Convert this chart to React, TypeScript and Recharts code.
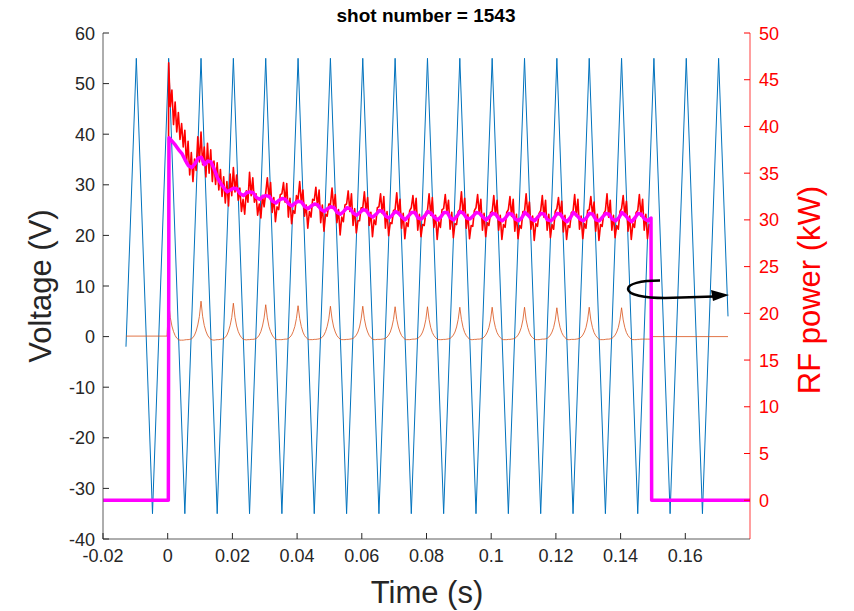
import { LineChart, Line, XAxis, YAxis } from "recharts";

const timeTicks = [-0.02, 0, 0.02, 0.04, 0.06, 0.08, 0.1, 0.12, 0.14, 0.16];
const voltTicks = [-40, -30, -20, -10, 0, 10, 20, 30, 40, 50, 60];
const powerTicks = [0, 5, 10, 15, 20, 25, 30, 35, 40, 45, 50];

// probe sweep voltage (triangle), vertices only
const sweepTime = [
  -0.0129, -0.0097, -0.0047, 0.0003, 0.0053, 0.0103, 0.0153, 0.0203, 0.0253, 0.0303,
  0.0353, 0.0403, 0.0453, 0.0503, 0.0553, 0.0603, 0.0653, 0.0703, 0.0753, 0.0803,
  0.0853, 0.0903, 0.0953, 0.1003, 0.1053, 0.1103, 0.1153, 0.1203, 0.1253, 0.1303,
  0.1353, 0.1403, 0.1453, 0.1503, 0.1553, 0.1603, 0.1653, 0.1703, 0.1732,
];
const sweepVolts = [
  -2, 55, -35, 55, -35, 55, -35, 55, -35, 55,
  -35, 55, -35, 55, -35, 55, -35, 55, -35, 55,
  -35, 55, -35, 55, -35, 55, -35, 55, -35, 55,
  -35, 55, -35, 55, -35, 55, -35, 55, 4,
];

// probe signal, sampled every 0.5 ms from t = 0.3 ms
const probeStart = 0.0003;
const probeStep = 0.0005;
const probeBeforeTime = [-0.0129, -0.0002];
const probeBeforeVolts = [0.1, 0.1];
const probeAfterTime = [0.1496, 0.1732];
const probeAfterVolts = [0, 0];
const probeRows = [
  [6.8, 3.8, 2.1, 1.0, 0.2, -0.3, -0.6, -0.7, -0.7, -0.7, -0.65, -0.6, -0.6, -0.55, -0.45, -0.2, 0.3, 1.1, 2.3, 4.0],
  [7.0, 4.0, 2.2, 1.1, 0.3, -0.2, -0.5, -0.65, -0.7, -0.65, -0.6, -0.6, -0.55, -0.5, -0.4, -0.15, 0.3, 1.1, 2.2, 3.8],
  [6.6, 3.8, 2.1, 1.0, 0.3, -0.2, -0.5, -0.6, -0.65, -0.6, -0.6, -0.55, -0.55, -0.5, -0.4, -0.15, 0.3, 1.0, 2.1, 3.7],
  [6.3, 3.7, 2.0, 1.0, 0.3, -0.2, -0.5, -0.6, -0.6, -0.6, -0.6, -0.55, -0.5, -0.5, -0.4, -0.1, 0.3, 1.0, 2.0, 3.6],
  [6.1, 3.6, 2.0, 0.9, 0.2, -0.2, -0.5, -0.6, -0.6, -0.6, -0.55, -0.55, -0.5, -0.45, -0.35, -0.1, 0.3, 1.0, 2.0, 3.5],
  [6.0, 3.5, 1.9, 0.9, 0.2, -0.2, -0.5, -0.6, -0.6, -0.6, -0.55, -0.55, -0.5, -0.45, -0.35, -0.1, 0.3, 0.9, 1.9, 3.5],
  [6.0, 3.5, 1.9, 0.9, 0.2, -0.2, -0.5, -0.6, -0.6, -0.55, -0.55, -0.55, -0.5, -0.45, -0.35, -0.1, 0.3, 0.9, 1.9, 3.4],
  [5.9, 3.4, 1.9, 0.9, 0.2, -0.2, -0.5, -0.6, -0.6, -0.6, -0.55, -0.5, -0.5, -0.45, -0.35, -0.1, 0.3, 0.9, 1.9, 3.4],
  [5.9, 3.4, 1.8, 0.8, 0.2, -0.2, -0.5, -0.6, -0.6, -0.6, -0.55, -0.55, -0.5, -0.45, -0.35, -0.1, 0.3, 0.9, 1.9, 3.4],
  [5.8, 3.4, 1.8, 0.8, 0.2, -0.2, -0.5, -0.6, -0.6, -0.55, -0.55, -0.5, -0.5, -0.45, -0.35, -0.1, 0.3, 0.9, 1.8, 3.3],
  [5.8, 3.3, 1.8, 0.8, 0.2, -0.2, -0.5, -0.6, -0.6, -0.6, -0.55, -0.55, -0.5, -0.45, -0.35, -0.1, 0.3, 0.9, 1.8, 3.3],
  [5.8, 3.3, 1.8, 0.8, 0.1, -0.2, -0.5, -0.6, -0.6, -0.6, -0.55, -0.5, -0.5, -0.45, -0.35, -0.1, 0.3, 0.9, 1.8, 3.3],
  [5.7, 3.3, 1.8, 0.8, 0.2, -0.2, -0.5, -0.6, -0.6, -0.55, -0.55, -0.55, -0.5, -0.45, -0.35, -0.1, 0.3, 0.9, 1.8, 3.3],
  [5.8, 3.3, 1.8, 0.8, 0.2, -0.2, -0.5, -0.6, -0.6, -0.6, -0.55, -0.5, -0.5, -0.45, -0.35, -0.1, 0.3, 0.9, 1.8, 3.3],
  [5.7, 3.3, 1.8, 0.8, 0.2, -0.2, -0.5, -0.6, -0.6, -0.6, -0.55, -0.55, -0.5, -0.5, -0.5, -0.5, -0.5, -0.5, -0.5],
];

// raw RF power (kW), sampled every 0.5 ms from t = 0.3 ms
const rfStart = 0.0003;
const rfStep = 0.0005;
const rfBeforeTime = [-0.02, 0.0001];
const rfBeforePower = [0, 0];
const rfAfterTime = [0.1495, 0.18];
const rfAfterPower = [0, 0];
const rfRows = [
  [46.8, 42.1, 43.9, 40.2, 42.6, 39.4, 41.5, 38.6, 40.3, 37.8],
  [39.6, 36.0, 38.4, 34.8, 37.2, 34.1, 36.5, 35.3, 38.9, 36.2],
  [39.4, 35.9, 37.8, 34.6, 38.2, 35.0, 37.5, 34.1, 36.3, 33.8],
  [36.1, 33.2, 35.4, 32.5, 34.6, 31.8, 34.1, 31.5, 34.9, 32.6],
  [35.6, 33.0, 34.8, 32.1, 33.4, 30.9, 32.2, 30.6, 33.1, 31.9],
  [35.1, 32.6, 34.5, 31.9, 32.8, 30.5, 31.7, 30.2, 32.6, 31.4],
  [32.9, 34.5, 32.4, 34.0, 30.8, 32.4, 29.8, 31.4, 31.1, 32.7],
  [32.8, 34.0, 31.9, 33.9, 30.3, 32.3, 29.6, 31.0, 30.7, 32.6],
  [32.2, 34.1, 31.9, 33.2, 30.4, 31.6, 29.1, 30.9, 30.3, 32.2],
  [32.1, 33.5, 31.4, 33.2, 29.7, 31.6, 28.8, 30.6, 30.4, 31.7],
  [31.6, 33.4, 31.3, 32.7, 29.7, 31.1, 28.4, 30.3, 29.8, 31.6],
  [31.7, 33.1, 30.9, 32.8, 29.4, 31.2, 28.6, 29.9, 29.9, 31.3],
  [31.3, 33.0, 30.9, 32.4, 29.4, 30.8, 28.2, 30.0, 29.5, 31.3],
  [31.4, 32.8, 30.7, 32.5, 29.1, 30.9, 28.3, 29.7, 29.6, 31.0],
  [31.1, 32.9, 30.6, 32.2, 29.1, 30.7, 28.0, 29.7, 29.3, 31.0],
  [31.3, 32.6, 30.7, 32.3, 28.9, 30.6, 28.2, 29.5, 29.4, 30.8],
  [31.0, 32.8, 30.5, 32.4, 29.2, 30.5, 27.9, 29.8, 29.2, 31.1],
  [31.2, 32.7, 30.8, 32.1, 29.0, 30.8, 28.1, 29.6, 29.5, 30.9],
  [31.1, 33.0, 30.6, 32.3, 29.1, 30.6, 28.0, 29.4, 29.3, 31.0],
  [31.3, 32.7, 30.7, 32.2, 28.9, 30.7, 28.2, 29.7, 29.4, 30.8],
  [30.9, 32.6, 30.5, 32.1, 28.9, 30.5, 27.9, 29.5, 29.2, 30.8],
  [31.1, 32.5, 30.4, 32.2, 28.8, 30.6, 28.0, 29.4, 29.1, 30.9],
  [30.9, 32.8, 30.6, 31.9, 29.0, 30.4, 27.8, 29.6, 29.3, 30.7],
  [31.0, 32.6, 30.3, 32.1, 28.9, 30.6, 28.1, 29.5, 29.0, 30.9],
  [31.2, 32.4, 30.5, 32.0, 28.7, 30.5, 27.9, 29.4, 29.2, 30.8],
  [30.9, 32.7, 30.4, 32.2, 29.0, 30.4, 28.0, 29.6, 29.1, 31.0],
  [31.1, 32.5, 30.6, 31.9, 28.8, 30.6, 27.8, 29.5, 29.3, 30.7],
  [31.0, 32.8, 30.3, 32.1, 28.9, 30.5, 28.1, 29.4, 29.0, 30.9],
  [31.2, 32.6, 30.5, 32.0, 28.8, 30.4, 27.9, 29.6, 29.2, 30.8],
  [31.0, 32.7, 30.4, 32.2, 28.9, 30.6, 28.0, 29.5, 29.3],
];

// smoothed RF power (kW), every 1 ms from t = 0.4 ms
const smoothStart = 0.0004;
const smoothStep = 0.001;
const smoothBeforeTime = [-0.02, 0.0002];
const smoothBeforePower = [0, 0];
const smoothAfterTime = [0.1496, 0.18];
const smoothAfterPower = [0, 0];
const smoothRows = [
  [38.8, 38.4, 38.0, 37.5, 37.1],
  [36.4, 35.8, 35.6, 36.0, 36.6],
  [36.7, 35.9, 36.3, 36.2, 35.4],
  [34.5, 33.9, 33.4, 33.0, 33.2],
  [33.4, 33.3, 32.8, 32.6, 32.9],
  [33.0, 32.9, 32.4, 32.2, 32.5],
  [32.6, 32.5, 32.0, 31.8, 32.1],
  [32.3, 32.2, 31.7, 31.5, 31.8],
  [32.0, 31.9, 31.4, 31.2, 31.5],
  [31.7, 31.6, 31.1, 30.9, 31.2],
  [31.4, 31.3, 30.8, 30.6, 30.9],
  [31.3, 31.2, 30.7, 30.5, 30.8],
  [31.1, 31.0, 30.5, 30.3, 30.6],
  [31.0, 30.9, 30.4, 30.2, 30.5],
  [30.9, 30.7, 30.3, 30.0, 30.4],
  [30.8, 30.8, 30.2, 30.1, 30.4],
  [30.9, 30.7, 30.3, 30.0, 30.3],
  [30.8, 30.8, 30.2, 30.0, 30.4],
  [30.9, 30.7, 30.2, 30.1, 30.4],
  [30.8, 30.7, 30.3, 30.0, 30.3],
  [30.7, 30.6, 30.1, 29.9, 30.2],
  [30.7, 30.6, 30.1, 29.9, 30.2],
  [30.8, 30.5, 30.1, 29.9, 30.3],
  [30.7, 30.6, 30.0, 29.9, 30.2],
  [30.7, 30.6, 30.1, 29.8, 30.2],
  [30.8, 30.5, 30.1, 29.9, 30.2],
  [30.7, 30.6, 30.0, 29.9, 30.3],
  [30.7, 30.6, 30.1, 29.9, 30.2],
  [30.8, 30.5, 30.1, 29.8, 30.2],
  [30.7, 30.6, 30.1, 29.9, 30.2],
];

const pairs = (times: number[], vals: number[]) => times.map((t, i) => ({ t, v: vals[i] }));
const sampled = (start: number, step: number, vals: number[]) =>
  vals.map((v, i) => ({ t: +(start + i * step).toFixed(5), v }));

const sweepData = pairs(sweepTime, sweepVolts);
const probeData = [
  ...pairs(probeBeforeTime, probeBeforeVolts),
  ...sampled(probeStart, probeStep, probeRows.flat()),
  ...pairs(probeAfterTime, probeAfterVolts),
];
const rfData = [
  ...pairs(rfBeforeTime, rfBeforePower),
  ...sampled(rfStart, rfStep, rfRows.flat()),
  ...pairs(rfAfterTime, rfAfterPower),
];
const smoothData = [
  ...pairs(smoothBeforeTime, smoothBeforePower),
  ...sampled(smoothStart, smoothStep, smoothRows.flat()),
  ...pairs(smoothAfterTime, smoothAfterPower),
];

const FONT = "'Liberation Sans', Arial, Helvetica, sans-serif";
const INK = "#262626";
const AXIS = "#5c5c5c";
const RED = "#ff0000";

const BottomTick = ({ x, y, payload }: any) => (
  <g>
    <line x1={x} y1={y} x2={x} y2={y - 6} stroke={INK} />
    <text x={x} y={y + 23} textAnchor="middle" fill={INK} fontSize={18} fontFamily={FONT}>
      {payload.value}
    </text>
  </g>
);

const TopTick = ({ x, y }: any) => <line x1={x} y1={y} x2={x} y2={y + 6} stroke={INK} />;

const LeftTick = ({ x, y, payload }: any) => (
  <g>
    <line x1={x} y1={y} x2={x + 6} y2={y} stroke={INK} />
    <text x={x - 8} y={y} dy={6.5} textAnchor="end" fill={INK} fontSize={18} fontFamily={FONT}>
      {payload.value}
    </text>
  </g>
);

const RightTick = ({ x, y, payload }: any) => (
  <g>
    <line x1={x} y1={y} x2={x - 6} y2={y} stroke={RED} />
    <text x={x + 9} y={y} dy={6.5} textAnchor="start" fill={RED} fontSize={18} fontFamily={FONT}>
      {payload.value}
    </text>
  </g>
);

export default function App() {
  return (
    <div style={{ position: "absolute", left: 0, top: 0, width: 854, height: 611, background: "#fff", fontFamily: FONT }}>
      <LineChart width={854} height={611} margin={{ top: 33, right: 5, bottom: 32, left: 5 }}>
        <XAxis
          xAxisId="top"
          orientation="top"
          type="number"
          dataKey="t"
          domain={[-0.02, 0.18]}
          ticks={timeTicks}
          interval={0}
          height={0}
          tickSize={0}
          tickMargin={0}
          tickLine={false}
          tick={<TopTick />}
          axisLine={{ stroke: AXIS }}
          allowDataOverflow
        />
        <XAxis
          type="number"
          dataKey="t"
          domain={[-0.02, 0.18]}
          ticks={timeTicks}
          interval={0}
          height={40}
          tickSize={0}
          tickMargin={0}
          tickLine={false}
          tick={<BottomTick />}
          axisLine={{ stroke: AXIS }}
          allowDataOverflow
        />
        <YAxis
          yAxisId="left"
          type="number"
          domain={[-40, 60]}
          ticks={voltTicks}
          interval={0}
          width={98}
          tickSize={0}
          tickMargin={0}
          tickLine={false}
          tick={<LeftTick />}
          axisLine={{ stroke: AXIS }}
          allowDataOverflow
        />
        <YAxis
          yAxisId="right"
          orientation="right"
          type="number"
          domain={[-4.15, 50]}
          ticks={powerTicks}
          interval={0}
          width={99}
          tickSize={0}
          tickMargin={0}
          tickLine={false}
          tick={<RightTick />}
          axisLine={{ stroke: RED, strokeOpacity: 0.75 }}
          allowDataOverflow
        />
        <Line
          yAxisId="left"
          data={sweepData}
          dataKey="v"
          type="linear"
          stroke="#0072bd"
          strokeWidth={1}
          dot={false}
          isAnimationActive={false}
        />
        <Line
          yAxisId="left"
          data={probeData}
          dataKey="v"
          type="linear"
          stroke="#d95319"
          strokeOpacity={0.8}
          strokeWidth={1}
          dot={false}
          isAnimationActive={false}
        />
        <Line
          yAxisId="right"
          data={rfData}
          dataKey="v"
          type="linear"
          stroke={RED}
          strokeWidth={1.6}
          strokeLinejoin="round"
          dot={false}
          isAnimationActive={false}
        />
        <Line
          yAxisId="right"
          data={smoothData}
          dataKey="v"
          type="linear"
          stroke="#ff00ff"
          strokeWidth={3.5}
          strokeLinejoin="round"
          dot={false}
          isAnimationActive={false}
        />
      </LineChart>
      <svg width={854} height={611} style={{ position: "absolute", left: 0, top: 0, pointerEvents: "none" }}>
        <text x={426} y={22} textAnchor="middle" fontSize={19} fontWeight="bold" fill="#000" fontFamily={FONT}>
          shot number = 1543
        </text>
        <text x={427} y={603} textAnchor="middle" fontSize={31} fill={INK} fontFamily={FONT}>
          Time (s)
        </text>
        <text
          x={51}
          y={286}
          transform="rotate(-90 51 286)"
          textAnchor="middle"
          fontSize={31}
          fill={INK}
          fontFamily={FONT}
        >
          Voltage (V)
        </text>
        <text
          x={820}
          y={290}
          transform="rotate(-90 820 290)"
          textAnchor="middle"
          fontSize={31}
          fill={RED}
          fontFamily={FONT}
        >
          RF power (kW)
        </text>
        <path
          d="M 660 280.5 C 640 280.5, 628 284, 628 289 C 628 295, 645 298, 665 298 L 714 296.5"
          fill="none"
          stroke="#000"
          strokeWidth={2.5}
        />
        <polygon points="729,295 711,290 713,301" fill="#000" />
      </svg>
    </div>
  );
}
